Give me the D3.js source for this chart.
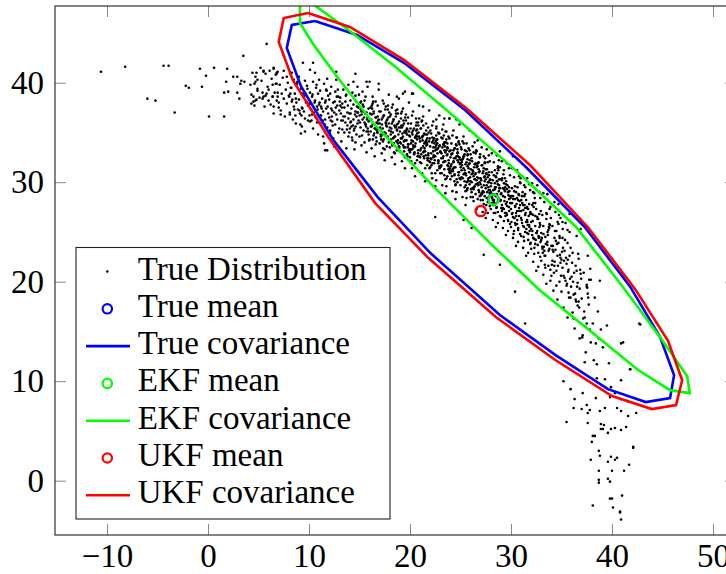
<!DOCTYPE html>
<html>
<head>
<meta charset="utf-8">
<title>True vs EKF vs UKF</title>
<script src="https://d3js.org/d3.v7.min.js"></script>
<style>
  body { margin: 0; background: #fff; }
</style>
</head>
<body>
<script>
// ---- data ----
const xTicks = [-10, 0, 10, 20, 30, 40, 50];
const xTickLabels = ["\u221210", "0", "10", "20", "30", "40", "50"];
const yTicks = [0, 10, 20, 30, 40];
const yTickLabels = ["0", "10", "20", "30", "40"];

const legendLabels = ["True Distribution", "True mean", "True covariance",
    "EKF mean", "EKF covariance", "UKF mean", "UKF covariance"];

const trueMean = [28.25, 28.28];
const ekfMean = [28.28, 28.25];
const ukfMean = [27.0, 27.1];

const trueCov = [[10.6,46.2],[14.75,44.8],[19.4,42.0],[25.45,37.25],[31.5,31.5],[37.3,25.5],[41.8,19.5],
    [44.75,14.45],[46.15,10.6],[45.75,8.3],[43.35,7.9],[39.6,9.2],[34.45,12.6],[28.9,16.65],[22.0,22.9],
    [16.8,28.5],[12.4,34.25],[9.2,39.65],[7.8,43.5],[8.3,45.8],[10.6,46.2]];
const ekfCov = [[9.1,48.1],[10.4,47.9],[14.05,45.2],[18.6,41.55],[24.55,36.45],[30.4,31.25],[36.45,25.5],
    [41.1,19.45],[44.75,14.45],[47.45,10.5],[47.7,8.8],[45.75,9.1],[42.55,11.15],[38.1,14.85],[32.85,19.15],
    [27.9,23.9],[22.0,29.9],[16.35,35.95],[13.05,40.25],[10.6,43.6],[9.1,46.0],[9.1,48.1]];
const ukfCov = [[9.9,47.0],[14.05,45.6],[19.4,42.3],[25.55,37.45],[31.9,31.7],[37.6,25.5],[42.3,19.25],
    [45.55,14.05],[46.95,10.1],[46.35,7.6],[43.95,7.2],[40.0,8.5],[34.35,12.15],[28.5,16.45],[21.8,22.4],
    [16.55,27.9],[11.9,34.55],[8.4,40.25],[7.0,44.1],[7.5,46.5],[9.9,47.0]];

// samples of the true distribution, "x,y" pairs
const leftTail = "-10.6,41.1 -8.2,41.6 -4.4,41.7 -3.9,41.7 -6.0,38.4 -5.2,38.2 -3.3,37.0 -2.2,39.7 -1.9,39.5 " +
    "-0.8,41.4 -0.2,40.7 0.6,41.5 -0.6,39.6 0.1,36.6 1.6,36.6 1.9,41.4 1.8,40.1 1.6,39.0 2.0,39.1 2.5,40.6 " +
    "2.9,40.6 3.3,40.2 3.6,40.1 3.2,39.9 3.5,42.7 2.9,39.0 3.1,38.4 4.4,41.0 4.6,39.9 4.7,40.1 4.9,40.3 " +
    "4.9,39.4 4.3,38.8 4.5,38.6 4.7,38.2 4.8,38.3 4.6,37.7 5.4,38.4 5.7,38.7 6.0,38.2 6.4,38.6 6.5,37.6 " +
    "7.0,37.5 5.5,41.1 6.1,41.2 6.5,41.5 6.7,40.8 6.8,41.0 6.4,39.8 6.8,39.9 6.9,39.0 6.9,38.6 5.8,43.9 " +
    "5.5,41.2 6.5,41.4 6.8,40.9 7.8,40.6 9.4,42.0 10.4,42.0 10.1,41.3 9.0,40.6 11.0,40.3 12.7,41.1 14.6,40.9 " +
    "15.7,40.1 16.9,39.9 18.7,38.6 19.3,38.9 20.2,38.9 21.3,37.6 22.6,36.3 23.9,36.4 9.6,35.1 11.8,33.2 " +
    "5.5,38.6 7.2,36.8 16.0,40.1 19.5,39.1 20.3,38.9";
const outliers = "23.4,36.4 24.6,36.3 28.9,33.1 30.2,32.6 32.2,29.0 35.1,26.0 35.8,25.0 37.5,19.7 " +
    "22.5,26.5 27.3,22.7 25.3,26.2 26.1,25.4 30.4,19.0 28.9,21.7 11.6,33.2 31.4,15.8 42.7,15.8 42.8,15.7 " +
    "41.1,13.9 41.8,11.2";
const bottomTail = "42.1,3.3 41.7,1.6 41.0,-1.5 40.8,-3.2 40.9,-3.9 40.1,-2.7 39.8,-1.8 40.0,-1.8 38.1,-2.5 " +
    "38.7,0.1 38.7,-0.2 39.6,0.2 39.8,-0.1 38.7,1.0 40.0,1.0 41.2,1.0 37.9,2.1 38.8,2.5 39.6,1.9 39.9,2.4 " +
    "40.3,2.1 40.5,2.3 38.7,3.0 38.0,3.9 38.1,4.5 38.3,4.5 39.1,5.2 39.2,5.6 38.9,5.7 38.9,5.2 39.6,4.8 " +
    "39.9,5.2 40.3,5.3 40.9,5.1 41.4,5.4 35.5,5.9 37.6,5.8 37.8,7.1 37.6,6.8 36.2,7.3 37.0,7.2 38.8,7.0 " +
    "39.3,7.3 40.5,7.3 40.9,7.0 41.6,6.5 42.4,6.8 36.3,8.2 37.5,7.6 38.4,8.3 39.8,8.4 40.9,8.2 41.5,8.0 " +
    "40.3,8.8 35.2,10.0 35.9,9.2 37.1,8.8 40.9,10.1 41.8,11.2 40.9,13.8 42.1,3.4 40.8,-3.1";
const bandUpper =
    "4.2,39.8 4.5,38.1 4.7,40.6 4.9,39.2 4.3,37.9 4.8,41.0 " +
    "5.1,38.5 5.3,40.2 5.4,39.0 5.6,37.6 5.7,40.9 5.8,38.9 5.2,41.5 5.9,39.6 " +
    "6.0,39.3 6.2,37.8 6.3,40.4 6.4,38.6 6.5,36.9 6.7,39.9 6.8,38.2 6.9,41.1 6.6,39.0 " +
    "7.0,38.0 7.1,39.8 7.2,37.2 7.3,38.9 7.4,40.5 7.5,38.4 7.6,36.6 7.7,39.3 7.8,37.9 7.9,40.0 7.5,41.2 " +
    "8.0,38.7 8.1,37.0 8.2,39.5 8.3,38.1 8.4,36.3 8.5,40.3 8.5,37.6 8.6,38.9 8.7,35.9 8.8,39.9 8.9,37.3 8.3,41.0 8.7,38.4 8.1,36.8 " +
    "9.0,38.3 9.1,36.9 9.2,39.4 9.3,37.5 9.3,35.6 9.4,38.9 9.5,37.1 9.6,40.2 9.6,36.4 9.7,38.0 9.8,39.7 9.9,37.7 9.2,34.9 9.5,38.6 9.9,36.2 " +
    "10.0,37.9 10.1,36.1 10.1,39.0 10.2,37.3 10.3,38.6 10.4,35.4 10.4,40.1 10.5,37.0 10.6,38.2 10.7,36.5 10.7,39.5 10.8,37.6 10.9,34.8 10.9,38.9 10.3,36.8 10.6,41.0 10.8,36.0 " +
    "11.0,37.8 11.1,35.9 11.1,39.2 11.2,36.7 11.3,38.4 11.4,37.1 11.4,34.6 11.5,39.9 11.6,36.3 11.6,38.0 11.7,37.4 11.8,35.5 11.8,40.4 11.9,36.9 11.9,38.7 11.2,37.6 11.5,33.9 11.7,39.3 " +
    "12.0,36.5 12.0,38.3 12.1,35.2 12.2,37.4 12.2,39.6 12.3,36.1 12.4,38.0 12.4,34.4 12.5,37.0 12.6,39.1 12.6,35.8 12.7,36.8 12.7,40.3 12.8,37.7 12.9,35.0 12.9,38.6 12.3,37.2 12.5,33.6 12.8,36.3 12.1,38.9 " +
    "13.0,37.2 13.0,35.4 13.1,38.5 13.2,36.2 13.2,34.1 13.3,37.9 13.4,36.6 13.4,39.3 13.5,35.0 13.5,37.5 13.6,36.0 13.7,38.8 13.7,33.4 13.8,37.0 13.8,35.7 13.9,39.8 13.9,36.4 13.1,37.7 13.3,35.3 13.6,38.1 13.9,34.6 " +
    "14.0,36.9 14.0,35.0 14.1,38.2 14.1,36.0 14.2,37.4 14.3,34.2 14.3,39.0 14.4,36.3 14.4,37.8 14.5,35.4 14.5,33.3 14.6,37.1 14.6,38.7 14.7,36.6 14.7,34.8 14.8,39.6 14.8,35.9 14.9,37.5 14.9,36.2 14.2,35.6 14.4,40.1 14.6,34.0 14.8,37.0 " +
    "15.0,36.7 15.0,34.6 15.1,38.0 15.1,35.5 15.2,37.1 15.2,33.7 15.3,36.3 15.3,39.1 15.4,35.2 15.4,37.6 15.5,34.0 15.5,36.0 15.6,38.6 15.6,35.8 15.7,37.0 15.7,33.0 15.8,36.5 15.8,39.6 15.9,34.8 15.9,37.4 15.2,36.8 15.5,38.2 15.7,35.1 15.9,36.1";
const bandMid =
    "16.0,36.2 16.0,34.3 16.1,37.5 16.1,35.1 16.2,36.8 16.2,33.4 16.3,35.8 16.3,38.6 16.4,34.7 16.4,37.1 16.5,35.4 16.5,32.6 16.6,36.5 16.6,38.1 16.7,34.1 16.7,36.0 16.8,37.7 16.8,35.0 16.9,39.3 16.9,36.3 16.2,35.6 16.4,36.9 16.6,33.8 16.8,36.6 16.3,37.9 16.7,35.3 " +
    "17.0,35.9 17.0,33.9 17.1,37.1 17.1,34.8 17.2,36.3 17.2,32.9 17.3,35.4 17.3,38.2 17.4,34.3 17.4,36.7 17.5,35.0 17.5,32.2 17.6,36.0 17.6,37.6 17.7,33.6 17.7,35.6 17.8,37.3 17.8,34.6 17.9,38.8 17.9,35.9 17.1,35.2 17.3,36.5 17.5,33.3 17.7,36.2 17.9,34.0 17.4,37.9 17.6,34.9 " +
    "18.0,35.5 18.0,33.5 18.1,36.8 18.1,34.3 18.2,35.9 18.2,32.5 18.3,35.0 18.3,37.8 18.4,33.9 18.4,36.3 18.5,34.6 18.5,31.8 18.6,35.6 18.6,37.2 18.7,33.2 18.7,35.2 18.8,36.9 18.8,34.2 18.9,38.4 18.9,35.5 18.1,34.8 18.3,36.1 18.5,32.9 18.7,35.8 18.9,33.6 18.2,37.5 18.4,34.5 18.6,36.6 18.8,33.9 " +
    "19.0,35.1 19.0,33.1 19.1,36.4 19.1,33.9 19.2,35.5 19.2,32.1 19.3,34.6 19.3,37.4 19.4,33.5 19.4,35.9 19.5,34.2 19.5,31.4 19.6,35.2 19.6,36.8 19.7,32.8 19.7,34.8 19.8,36.5 19.8,33.8 19.9,38.0 19.9,35.1 19.1,34.4 19.3,35.7 19.5,32.5 19.7,35.4 19.9,33.2 19.2,37.1 19.4,34.1 19.6,36.2 19.8,33.5 19.5,35.0 " +
    "20.0,34.6 20.0,32.5 20.1,35.9 20.1,33.3 20.2,35.0 20.2,31.4 20.3,34.1 20.3,37.1 20.4,32.9 20.4,35.4 20.5,33.6 20.5,30.6 20.6,34.7 20.6,36.4 20.7,32.2 20.7,34.3 20.8,36.0 20.8,33.2 20.9,37.7 20.9,34.6 20.1,33.9 20.3,35.2 20.5,31.9 20.7,34.9 20.9,32.6 20.2,36.7 20.4,33.6 20.6,35.7 20.8,32.9 20.5,34.5 20.0,33.0 20.7,35.3 " +
    "21.0,34.1 21.0,32.0 21.1,35.4 21.1,32.8 21.2,34.5 21.2,30.9 21.3,33.6 21.3,36.6 21.4,32.4 21.4,34.9 21.5,33.1 21.5,30.1 21.6,34.2 21.6,35.9 21.7,31.7 21.7,33.8 21.8,35.5 21.8,32.7 21.9,37.2 21.9,34.1 21.1,33.4 21.3,34.7 21.5,31.4 21.7,34.4 21.9,32.1 21.2,36.2 21.4,33.1 21.6,35.2 21.8,32.4 21.5,34.0 21.0,32.5 21.7,34.8 21.3,33.0 " +
    "22.0,33.6 22.0,31.5 22.1,34.9 22.1,32.3 22.2,34.0 22.2,30.4 22.3,33.1 22.3,36.1 22.4,31.9 22.4,34.4 22.5,32.6 22.5,29.6 22.6,33.7 22.6,35.4 22.7,31.2 22.7,33.3 22.8,35.0 22.8,32.2 22.9,36.7 22.9,33.6 22.1,32.9 22.3,34.2 22.5,30.9 22.7,33.9 22.9,31.6 22.2,35.7 22.4,32.6 22.6,34.7 22.8,31.9 22.5,33.5 22.0,32.0 22.7,34.3 22.3,32.5 22.6,30.2 22.9,34.9 " +
    "23.0,33.1 23.0,30.9 23.1,34.5 23.1,31.7 23.2,33.5 23.2,29.7 23.3,32.6 23.3,35.8 23.4,31.3 23.4,34.0 23.5,32.1 23.5,28.9 23.6,33.2 23.6,35.1 23.7,30.6 23.7,32.8 23.8,34.6 23.8,31.6 23.9,36.4 23.9,33.1 23.1,32.4 23.3,33.8 23.5,30.3 23.7,33.5 23.9,31.0 23.2,35.3 23.4,32.1 23.6,34.3 23.8,31.3 23.5,33.0 23.0,31.5 23.7,33.9 23.3,32.0 23.6,29.6 23.9,34.4 23.4,30.7 " +
    "24.0,32.5 24.0,30.3 24.1,33.9 24.1,31.1 24.2,32.9 24.2,29.1 24.3,32.0 24.3,35.2 24.4,30.7 24.4,33.4 24.5,31.5 24.5,28.3 24.6,32.6 24.6,34.5 24.7,30.0 24.7,32.2 24.8,34.0 24.8,31.0 24.9,35.8 24.9,32.5 24.1,31.8 24.3,33.2 24.5,29.7 24.7,32.9 24.9,30.4 24.2,34.7 24.4,31.5 24.6,33.7 24.8,30.7 24.5,32.4 24.0,30.9 24.7,33.3 24.3,31.4 24.6,29.0 24.9,33.8 24.4,30.1 24.1,32.8 24.8,32.0 " +
    "25.0,31.9 25.0,29.7 25.1,33.3 25.1,30.5 25.2,32.3 25.2,28.5 25.3,31.4 25.3,34.6 25.4,30.1 25.4,32.8 25.5,30.9 25.5,27.7 25.6,32.0 25.6,33.9 25.7,29.4 25.7,31.6 25.8,33.4 25.8,30.4 25.9,35.2 25.9,31.9 25.1,31.2 25.3,32.6 25.5,29.1 25.7,32.3 25.9,29.8 25.2,34.1 25.4,30.9 25.6,33.1 25.8,30.1 25.5,31.8 25.0,30.3 25.7,32.7 25.3,30.8 25.6,28.4 25.9,33.2 25.4,29.5 25.1,32.2 25.8,31.4";
const bandLower =
    "26.0,30.1 26.1,32.4 26.1,29.0 26.2,31.2 26.2,33.6 26.3,30.6 26.3,28.1 26.4,31.8 26.4,29.6 26.5,32.9 26.5,30.9 26.6,27.3 26.6,31.5 26.7,29.9 26.7,34.2 26.8,30.4 26.8,32.0 26.9,28.6 26.9,31.1 26.0,32.8 26.2,29.4 26.4,30.3 26.6,33.1 26.8,29.2 26.1,30.8 26.3,33.0 26.5,28.8 26.7,31.6 26.9,30.0 26.0,28.5 26.2,30.9 26.4,34.0 26.6,30.2 26.8,31.3 26.5,31.9 26.3,29.3 26.7,28.3 26.9,32.5 " +
    "27.0,30.4 27.0,28.2 27.1,31.7 27.1,29.5 27.2,27.0 27.2,30.9 27.3,29.0 27.3,32.6 27.4,30.1 27.4,28.6 27.5,31.3 27.5,26.4 27.6,29.7 27.6,33.3 27.7,30.5 27.7,28.0 27.8,31.0 27.8,29.2 27.9,32.1 27.9,27.6 27.0,29.8 27.1,33.5 27.3,27.8 27.4,31.9 27.5,29.4 27.6,30.8 27.7,26.9 27.8,32.7 27.9,30.2 27.2,29.1 27.4,30.6 27.6,28.4 27.8,30.0 27.1,28.8 27.3,31.4 27.5,30.3 27.7,32.0 27.9,28.9 " +
    "28.0,29.6 28.0,27.3 28.1,31.0 28.1,28.5 28.2,26.2 28.2,30.2 28.3,28.1 28.3,32.0 28.4,29.3 28.4,27.7 28.5,30.6 28.5,25.5 28.6,28.8 28.6,32.7 28.7,29.8 28.7,27.0 28.8,30.3 28.8,28.3 28.9,31.5 28.9,26.6 28.0,29.0 28.1,32.9 28.3,26.9 28.4,31.2 28.5,28.6 28.6,30.1 28.7,25.9 28.8,32.2 28.9,29.4 28.2,28.2 28.4,29.9 28.6,27.5 28.8,29.1 28.1,27.9 28.3,30.7 28.5,29.5 28.7,31.4 " +
    "29.0,28.8 29.0,26.5 29.1,30.2 29.1,27.7 29.2,25.4 29.2,29.4 29.3,27.3 29.3,31.2 29.4,28.5 29.4,26.9 29.5,29.8 29.5,24.7 29.6,28.0 29.6,31.9 29.7,29.0 29.7,26.2 29.8,29.5 29.8,27.5 29.9,30.7 29.9,25.8 29.0,28.2 29.1,32.1 29.3,26.1 29.4,30.4 29.5,27.8 29.6,29.3 29.7,25.1 29.8,31.4 29.9,28.6 29.2,27.4 29.4,29.1 29.6,26.7 29.8,28.3 29.1,27.1 29.3,29.9 " +
    "30.0,27.9 30.0,25.5 30.1,29.4 30.1,26.8 30.2,24.4 30.2,28.6 30.3,26.4 30.3,30.5 30.4,27.6 30.4,25.9 30.5,29.0 30.5,23.6 30.6,27.1 30.6,31.2 30.7,28.2 30.7,25.2 30.8,28.7 30.8,26.6 30.9,30.0 30.9,24.8 30.0,27.3 30.1,31.4 30.3,25.1 30.4,29.6 30.5,26.9 30.6,28.4 30.7,24.0 30.8,30.6 30.9,27.7 30.2,26.5 30.4,28.3 30.6,25.8 30.8,27.4 " +
    "31.0,27.1 31.0,24.6 31.1,28.6 31.1,25.9 31.2,23.4 31.2,27.7 31.3,25.5 31.3,29.7 31.4,26.7 31.4,25.0 31.5,28.2 31.5,22.6 31.6,26.2 31.6,30.4 31.7,27.3 31.7,24.2 31.8,27.8 31.8,25.7 31.9,29.2 31.9,23.8 31.0,26.4 31.1,30.6 31.3,24.1 31.4,28.8 31.5,26.0 31.6,27.5 31.7,22.9 31.8,29.8 31.9,26.8 31.2,25.6 31.4,27.4 31.6,24.9 " +
    "32.0,26.0 32.0,23.3 32.1,27.7 32.1,24.7 32.2,22.0 32.2,26.7 32.3,24.3 32.3,28.9 32.4,25.6 32.4,23.8 32.5,27.3 32.5,21.1 32.6,25.1 32.6,29.7 32.7,26.3 32.7,22.9 32.8,26.8 32.8,24.5 32.9,28.4 32.9,22.5 32.0,25.3 32.1,29.9 32.3,22.8 32.4,27.9 32.5,24.9 32.6,26.5 32.7,21.5 32.8,29.0 32.9,25.7 32.2,24.4 " +
    "33.0,24.9 33.0,22.1 33.1,26.7 33.1,23.5 33.2,20.7 33.2,25.6 33.3,23.1 33.3,28.0 33.4,24.5 33.4,22.6 33.5,26.3 33.5,19.8 33.6,24.0 33.6,28.8 33.7,25.2 33.7,21.6 33.8,25.8 33.8,23.3 33.9,27.5 33.9,21.2 33.0,24.2 33.2,28.9 33.4,21.4 33.5,26.9 33.6,23.7 33.8,25.4 33.9,20.1 " +
    "34.0,23.6 34.0,20.6 34.1,25.6 34.1,22.1 34.2,19.1 34.3,24.4 34.3,21.6 34.4,27.0 34.4,23.2 34.5,21.1 34.5,25.1 34.6,18.2 34.6,22.6 34.7,27.8 34.7,23.9 34.8,20.0 34.8,24.6 34.9,21.9 34.9,26.4 34.2,23.0 34.3,28.0 34.5,19.6 34.7,25.8 34.9,22.4 " +
    "35.0,22.2 35.0,19.0 35.1,24.4 35.2,20.6 35.2,17.4 35.3,23.1 35.4,20.1 35.4,25.9 35.5,21.8 35.5,19.6 35.6,23.9 35.6,16.4 35.7,21.2 35.8,26.8 35.8,22.6 35.9,18.4 35.9,23.4 35.3,20.4 35.6,25.2 35.1,21.4 35.7,18.9 " +
    "36.0,20.5 36.1,16.9 36.1,22.9 36.2,18.7 36.3,15.3 36.4,21.6 36.4,18.2 36.5,24.6 36.6,19.9 36.6,17.6 36.7,22.3 36.8,14.3 36.8,19.3 36.9,25.3 36.9,20.8 36.2,16.3 36.5,21.1 36.7,18.0 " +
    "37.0,18.3 37.1,14.6 37.2,20.9 37.3,16.4 37.4,12.9 37.5,19.5 37.5,15.8 37.6,22.6 37.7,17.7 37.8,15.2 37.9,20.2 37.3,11.9 37.6,18.8 37.9,13.9 " +
    "38.1,15.8 38.2,12.1 38.3,18.4 38.4,13.8 38.5,10.3 38.6,17.0 38.7,14.3 38.8,20.1 38.9,15.2 38.5,11.7 " +
    "39.1,13.4 39.3,10.2 39.5,15.6 39.7,11.8 39.9,9.4";
// the darker core of the band
const bandCore =
    "8.05,38.6 8.55,37.3 8.25,39.5 8.75,38.0 8.15,38.9 8.65,36.7 8.35,38.3 8.85,40.1 " +
    "9.05,37.2 9.55,38.7 9.25,36.7 9.75,38.1 9.15,35.8 9.65,38.9 9.35,37.4 9.85,39.4 " +
    "10.05,36.7 10.55,38.0 10.25,36.2 10.75,39.8 10.15,37.9 10.65,36.6 10.35,38.8 10.85,37.3 " +
    "11.05,38.0 11.55,35.8 11.25,37.4 11.75,39.2 11.15,36.7 11.65,38.2 11.35,36.2 11.85,37.6 " +
    "12.05,35.0 12.55,38.1 12.25,36.6 12.75,38.6 12.15,36.2 12.65,37.5 12.35,35.7 12.85,39.3 " +
    "13.05,38.1 13.55,36.6 13.25,37.5 13.75,35.3 13.15,36.9 13.65,38.7 13.35,36.2 13.85,37.7 " +
    "14.05,35.4 14.55,36.8 14.25,34.5 14.75,37.6 14.15,36.1 14.65,38.1 14.35,35.7 14.85,37.0 14.45,35.2 14.95,38.8 14.12,36.9 14.62,35.6 " +
    "15.05,36.0 15.55,36.9 15.25,34.7 15.75,36.3 15.15,38.1 15.65,35.6 15.35,37.1 15.85,35.1 15.45,36.5 15.95,34.2 15.12,37.3 15.62,35.8 15.32,37.8 15.82,35.4 " +
    "16.05,36.9 16.55,35.4 16.25,37.4 16.75,35.0 16.15,36.3 16.65,34.5 16.35,38.1 16.85,36.2 16.45,34.9 16.95,37.1 16.12,35.6 16.62,36.5 16.32,34.3 16.82,35.9 16.22,37.7 16.72,35.2 " +
    "17.05,35.5 17.55,37.3 17.25,34.8 17.75,36.3 17.15,34.3 17.65,35.7 17.35,33.4 17.85,36.5 17.45,35.0 17.95,37.0 17.12,34.6 17.62,35.9 17.32,34.1 17.82,37.7 17.22,35.8 17.72,34.5 17.42,36.7 17.92,35.2 " +
    "18.05,34.2 18.55,35.5 18.25,33.7 18.75,37.3 18.15,35.4 18.65,34.1 18.35,36.3 18.85,34.8 18.45,35.7 18.95,33.5 18.12,35.1 18.62,36.9 18.32,34.4 18.82,35.9 18.22,33.9 18.72,35.3 18.42,33.0 18.92,36.1 18.52,34.6 18.02,36.6 " +
    "19.05,35.5 19.55,33.5 19.25,34.9 19.75,32.6 19.15,35.7 19.65,34.2 19.35,36.2 19.85,33.8 19.45,35.1 19.95,33.3 19.12,36.9 19.62,35.0 19.32,33.7 19.82,35.9 19.22,34.4 19.72,35.3 19.42,33.1 19.92,34.7 19.52,36.5 19.02,34.0 " +
    "20.05,35.4 20.55,33.9 20.25,34.8 20.75,32.6 20.15,34.2 20.65,36.0 20.35,33.5 20.85,35.0 20.45,33.0 20.95,34.4 20.12,32.1 20.62,35.2 20.32,33.7 20.82,35.7 20.22,33.3 20.72,34.6 20.42,32.8 20.92,36.4 20.52,34.5 20.02,33.2 " +
    "21.05,35.4 21.55,32.7 21.25,34.2 21.75,32.2 21.15,36.1 21.65,34.0 21.35,32.6 21.85,35.0 21.45,33.4 21.95,34.4 21.12,31.9 21.62,33.7 21.32,35.7 21.82,32.9 21.22,34.6 21.72,32.4 21.42,33.9 21.92,31.4 21.52,34.8 21.02,33.2 " +
    "22.05,32.4 22.55,34.1 22.25,31.9 22.75,33.4 22.15,30.9 22.65,34.3 22.35,32.7 22.85,34.9 22.45,32.2 22.95,33.7 22.12,31.7 22.62,35.6 22.32,33.5 22.82,32.1 22.22,34.5 22.72,32.9 22.42,33.9 22.92,31.4 22.52,33.2 22.02,35.2 " +
    "23.05,31.6 23.55,34.0 23.25,32.4 23.75,33.4 23.15,30.9 23.65,32.7 23.35,34.7 23.85,31.9 23.45,33.6 23.95,31.4 23.12,32.9 23.62,30.4 23.32,33.8 23.82,32.2 23.22,34.4 23.72,31.7 23.42,33.2 23.92,31.2 23.52,35.1 23.02,33.0 " +
    "24.05,31.6 24.55,33.8 24.25,31.1 24.75,32.6 24.15,30.6 24.65,34.5 24.35,32.4 24.85,31.0 24.45,33.4 24.95,31.8 24.12,32.8 24.62,30.3 24.32,32.1 24.82,34.1 24.22,31.3 24.72,33.0 24.42,30.8 24.92,32.3 24.52,29.8 24.02,33.2 " +
    "25.05,33.5 25.55,30.7 25.25,32.4 25.75,30.2 25.15,31.7 25.65,29.2 25.35,32.6 25.85,31.0 25.45,33.2 25.95,30.5 25.12,32.0 25.62,30.0 25.32,33.9 25.82,31.8 25.22,30.4 25.72,32.8 25.42,31.2 25.92,32.2 25.52,29.7 25.02,31.5 " +
    "26.05,29.3 26.55,33.2 26.25,31.1 26.75,29.7 26.15,32.1 26.65,30.5 26.35,31.5 26.85,29.0 26.45,30.8 26.95,32.8 26.12,30.0 26.62,31.7 26.32,29.5 26.82,31.0 26.22,28.5 26.72,31.9 26.42,30.3 26.92,32.5 26.52,29.8 26.02,31.3 " +
    "27.05,30.2 27.55,27.7 27.25,31.1 27.75,29.5 27.15,31.7 27.65,29.0 27.35,30.5 27.85,28.5 27.45,32.4 27.95,30.3 27.12,28.9 27.62,31.3 27.32,29.7 27.82,30.7 27.22,28.2 27.72,30.0 27.42,32.0 27.92,29.2 27.52,30.9 27.02,28.7 " +
    "28.05,29.9 28.55,27.4 28.25,29.2 28.75,31.2 28.15,28.4 28.65,30.1 28.35,27.9 28.85,29.4 28.45,26.9 28.95,30.3 28.12,28.7 28.62,30.9 28.32,28.2 28.82,29.7 28.22,27.7 28.72,31.6 28.42,29.5 28.92,28.1 28.52,30.5 28.02,28.9 " +
    "29.05,28.9 29.55,26.9 29.25,30.8 29.75,28.7 29.15,27.3 29.65,29.7 29.35,28.1 29.85,29.1 29.45,26.6 29.95,28.4 29.12,30.4 29.62,27.6 29.32,29.3 29.82,27.1 29.22,28.6 29.72,26.1 29.42,29.5 29.92,27.9 29.52,30.1 29.02,27.4 " +
    "30.05,26.0 30.55,27.8 30.25,24.8 30.75,28.8 30.15,26.9 30.65,29.5 30.35,26.4 30.85,28.1 30.45,25.7 30.95,30.4 30.12,27.9 30.62,26.2 30.32,29.1 30.82,27.1 30.22,28.3 30.72,25.4 30.42,27.5 30.92,29.9 30.52,26.6 30.02,28.6 " +
    "31.05,26.2 31.55,27.4 31.25,24.5 31.75,26.6 31.15,29.0 31.65,25.7 31.35,27.7 31.85,25.1 31.45,26.9 31.95,23.9 31.12,27.9 31.62,26.0 31.32,28.6 31.82,25.5 31.22,27.2 31.72,24.8 31.42,29.5 31.92,27.0 31.52,25.3 31.02,28.2 " +
    "32.05,26.8 32.55,24.9 32.25,27.5 32.75,24.4 32.15,26.1 32.65,23.7 32.35,28.4 32.85,25.9 32.45,24.2 32.95,27.1 32.12,25.1 32.62,26.3 32.32,23.4 32.82,25.5 32.22,27.9 32.72,24.6 32.42,26.6 32.92,24.0 " +
    "33.05,24.4 33.55,26.8 33.25,23.5 33.75,25.5 33.15,22.9 33.65,24.7 33.35,21.7 33.85,25.7 33.45,23.8 33.95,26.4 33.12,23.3 33.62,25.0 33.32,22.6 33.82,27.3 33.22,24.8 33.72,23.1 " +
    "34.05,21.7 34.55,23.8 34.25,20.9 34.75,26.7 34.15,23.6 34.65,21.6 34.35,25.1 34.85,22.7 34.45,24.1 34.95,20.6 34.12,23.2 34.62,26.0 34.32,22.0 34.82,24.4 " +
    "35.05,23.0 35.55,19.8 35.25,22.1 35.75,18.4 35.15,23.4 35.65,21.0 35.35,24.2 35.85,20.3 35.45,22.4 35.95,19.5 35.12,25.3 35.62,22.2 " +
    "36.05,21.9 36.55,19.5 36.25,20.9 36.75,17.4 36.15,20.0 36.65,22.8 36.35,18.8 36.85,21.2 36.45,18.0 36.95,20.3 " +
    "37.05,14.4 37.55,19.4 37.25,17.0 37.75,20.2 37.15,16.3 37.65,18.4 37.35,15.5 37.85,21.3";

const parsePairs = s => s.trim().split(/\s+/).map(p => p.split(",").map(Number));
const samples = [leftTail, outliers, bottomTail, bandUpper, bandMid, bandLower, bandCore].flatMap(parsePairs);

// ---- layout ----
const W = 726, H = 574;
const plot = { left: 55, top: 6, right: 736, bottom: 535 };
const fontFamily = "Liberation Serif";
const fontSize = 33;

const svg = d3.select("body").append("svg")
    .attr("width", W)
    .attr("height", H);

const x = d3.scaleLinear().domain([-15.15, 52.28]).range([plot.left, plot.right]);
const y = d3.scaleLinear().domain([-5.46, 47.71]).range([plot.bottom, plot.top]);

svg.append("clipPath").attr("id", "clip")
    .append("rect")
    .attr("x", plot.left).attr("y", plot.top)
    .attr("width", plot.right - plot.left).attr("height", plot.bottom - plot.top);

// axes, ticks point inwards on all four sides
const tickLen = 11;
function styleAxis(g) {
    g.attr("font-family", fontFamily).attr("font-size", fontSize);
    g.select(".domain").remove();
    g.selectAll(".tick line").attr("stroke", "#888").attr("stroke-width", 1);
    g.selectAll(".tick text").attr("fill", "#000");
}

svg.append("g")
    .attr("transform", `translate(0,${plot.bottom})`)
    .call(d3.axisBottom(x).tickValues(xTicks).tickSize(-tickLen).tickPadding(9)
        .tickFormat((d, i) => xTickLabels[i]))
    .call(styleAxis);

svg.append("g")
    .attr("transform", `translate(0,${plot.top})`)
    .call(d3.axisTop(x).tickValues(xTicks).tickSize(-tickLen).tickFormat(""))
    .call(styleAxis);

svg.append("g")
    .attr("transform", `translate(${plot.left},0)`)
    .call(d3.axisLeft(y).tickValues(yTicks).tickSize(-tickLen).tickPadding(11)
        .tickFormat((d, i) => yTickLabels[i]))
    .call(styleAxis);

svg.append("g")
    .attr("transform", `translate(${plot.right},0)`)
    .call(d3.axisRight(y).tickValues(yTicks).tickSize(-tickLen).tickFormat(""))
    .call(styleAxis);

// plotted data
const body = svg.append("g").attr("clip-path", "url(#clip)");

body.append("g")
    .selectAll("circle")
    .data(samples)
    .enter()
    .append("circle")
    .attr("cx", d => x(d[0]))
    .attr("cy", d => y(d[1]))
    .attr("r", 1.3)
    .attr("fill", "#000");

const line = d3.line().x(d => x(d[0])).y(d => y(d[1]));

function meanMark(m, color) {
    body.append("circle")
        .attr("cx", x(m[0])).attr("cy", y(m[1]))
        .attr("r", 5.1)
        .attr("fill", "none")
        .attr("stroke", color)
        .attr("stroke-width", 2.4);
}
function covLine(pts, color) {
    body.append("path")
        .datum(pts)
        .attr("d", line)
        .attr("fill", "none")
        .attr("stroke", color)
        .attr("stroke-width", 2.6)
        .attr("stroke-linejoin", "miter");
}

meanMark(trueMean, "#0000ff");
covLine(trueCov, "#0000ff");
meanMark(ekfMean, "#00ff00");
covLine(ekfCov, "#00ff00");
meanMark(ukfMean, "#ff0000");
covLine(ukfCov, "#ff0000");

// frame
svg.append("rect")
    .attr("x", plot.left).attr("y", plot.top)
    .attr("width", plot.right - plot.left).attr("height", plot.bottom - plot.top)
    .attr("fill", "none")
    .attr("stroke", "#333")
    .attr("stroke-width", 1.2);

// legend
const legend = { x: 76, y: 247.5, w: 314, h: 271.5, rowH: 37.3, firstBase: 279.5 };
const lg = svg.append("g")
    .attr("font-family", fontFamily)
    .attr("font-size", fontSize);
lg.append("rect")
    .attr("x", legend.x).attr("y", legend.y)
    .attr("width", legend.w).attr("height", legend.h)
    .attr("fill", "#fff")
    .attr("stroke", "#222")
    .attr("stroke-width", 1.1);

const kinds = ["dot", "circle", "line", "circle", "line", "circle", "line"];
const colors = ["#000", "#0000ff", "#0000ff", "#00ff00", "#00ff00", "#ff0000", "#ff0000"];

legendLabels.forEach((label, i) => {
    const base = legend.firstBase + i * legend.rowH;
    const cy = base - 8;
    if (kinds[i] === "dot") {
        lg.append("circle").attr("cx", 107.3).attr("cy", cy).attr("r", 1.3).attr("fill", colors[i]);
    } else if (kinds[i] === "circle") {
        lg.append("circle").attr("cx", 107.3).attr("cy", cy).attr("r", 4.7)
            .attr("fill", "none").attr("stroke", colors[i]).attr("stroke-width", 2.2);
    } else {
        lg.append("line").attr("x1", 86).attr("x2", 130).attr("y1", cy).attr("y2", cy)
            .attr("stroke", colors[i]).attr("stroke-width", 2.6);
    }
    lg.append("text")
        .attr("x", 137.7)
        .attr("y", base)
        .text(label);
});
</script>
</body>
</html>
